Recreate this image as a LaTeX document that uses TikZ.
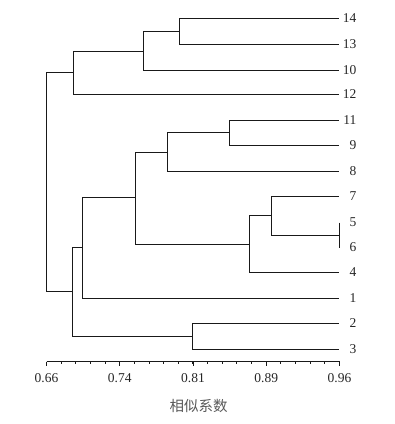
\documentclass[tikz,border=0pt]{standalone}
\usepackage{fontspec}
\setmainfont{Liberation Serif}
\newfontfamily\cjkfont{Noto Sans CJK SC}
\begin{document}
\begin{tikzpicture}[x=1pt,y=-1pt,
  branch/.style={line width=1.2pt,black!90},
  axisline/.style={line width=1pt,black!90},
  leaflabel/.style={anchor=east,inner sep=0pt,font=\fontsize{13.5}{13.5}\selectfont,text=black!85},
  ticklabel/.style={inner sep=0pt,font=\fontsize{13.5}{13.5}\selectfont,text=black!85},
  titlelabel/.style={inner sep=0pt,font=\cjkfont\fontsize{14.5}{15}\selectfont,text=black!65}]
\useasboundingbox (0,0) rectangle (395,424);
\begin{scope}[shift={(0.5,0.5)}]
% leaves
\foreach \n/\y in {14/18,13/44,10/70,12/94,11/120,9/145,8/171,7/196,5/222,6/247,4/272,1/298,2/323,3/349}{
  \coordinate (l\n) at (338,\y);
  \node[leaflabel] (t\n) at (356,\y) {\n};
}
% internal nodes
\coordinate (c1413) at (179,31);
\coordinate (c10) at (143,51);
\coordinate (c12) at (73,72);
\coordinate (c119) at (229,132);
\coordinate (c8) at (167,152);
\coordinate (c56) at (339,235);
\coordinate (c7) at (271,215);
\coordinate (c4) at (249,244);
\coordinate (c84) at (135,197);
\coordinate (c1) at (82,247);
\coordinate (c23) at (192,336);
\coordinate (c2) at (72,291);
\coordinate (root) at (46,182);
% branches
\draw[branch] (l14) -| (c1413) |- (l13);
\draw[branch] (c1413) -| (c10) |- (l10);
\draw[branch] (c10) -| (c12) |- (l12);
\draw[branch] (l11) -| (c119) |- (l9);
\draw[branch] (c119) -| (c8) |- (l8);
\draw[branch] (c56 |- l5) -- (c56 |- l6);
\draw[branch] (l7) -| (c7) |- (c56);
\draw[branch] (c7) -| (c4) |- (l4);
\draw[branch] (c8) -| (c84) |- (c4);
\draw[branch] (c84) -| (c1) |- (l1);
\draw[branch] (l2) -| (c23) |- (l3);
\draw[branch] (c1) -| (c2) |- (c23);
\draw[branch] (c12) -| (root) |- (c2);
% axis
\coordinate (a0) at (46,361);
\coordinate (a1) at (339,361);
\draw[axisline] (a0) -- (a1);
\foreach \i in {0,...,20}{
  \draw[axisline] ({46+round(\i*14.65)},361) -- ++(0,2.5);
}
\foreach \i/\lab in {0/0.66,1/0.74,2/0.81,3/0.89,4/0.96}{
  \draw[axisline] ({46+round(\i*73.25)},361) -- ++(0,4.5);
  \node[ticklabel] (x\i) at ({46+\i*73.25},377.5) {\lab};
}
\node[titlelabel] (title) at (198,405) {相似系数};
\end{scope}
\end{tikzpicture}
\end{document}
